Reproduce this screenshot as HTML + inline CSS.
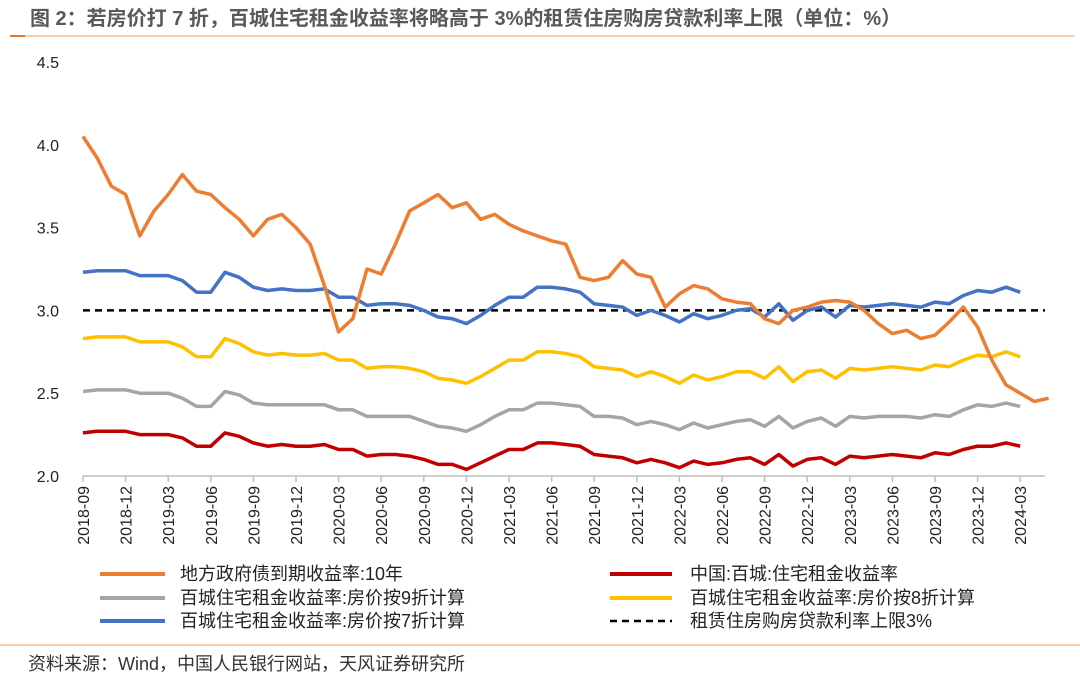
<!DOCTYPE html>
<html><head><meta charset="utf-8">
<style>
body{margin:0;background:#fff;}
svg{display:block;font-family:"Liberation Sans","Noto Sans CJK SC",sans-serif;}
</style></head>
<body>
<svg id="chart" width="1080" height="679" viewBox="0 0 1080 679" xmlns="http://www.w3.org/2000/svg">
<text x="30" y="25" font-size="20" font-weight="bold" fill="#595959">图 2：若房价打 7 折，百城住宅租金收益率将略高于 3%的租赁住房购房贷款利率上限（单位：%）</text>
<line x1="10" y1="36" x2="1075" y2="36" stroke="#f0a060" stroke-width="1"/>
<line x1="10" y1="36" x2="25" y2="36" stroke="#e07828" stroke-width="2"/>
<g id="yaxis"></g>
<g id="xaxis"></g>
<g id="series"></g>
<g font-size="18" fill="#222">
 <g><line x1="100" y1="574" x2="165" y2="574" stroke="#ed7d31" stroke-width="4"/><text x="180" y="580">地方政府债到期收益率:10年</text></g>
 <g><line x1="610" y1="574" x2="672" y2="574" stroke="#c00000" stroke-width="4"/><text x="690" y="580">中国:百城:住宅租金收益率</text></g>
 <g><line x1="100" y1="598" x2="165" y2="598" stroke="#a5a5a5" stroke-width="4"/><text x="180" y="604">百城住宅租金收益率:房价按9折计算</text></g>
 <g><line x1="610" y1="598" x2="672" y2="598" stroke="#ffc000" stroke-width="4"/><text x="690" y="604">百城住宅租金收益率:房价按8折计算</text></g>
 <g><line x1="100" y1="621" x2="165" y2="621" stroke="#4472c4" stroke-width="4"/><text x="180" y="627">百城住宅租金收益率:房价按7折计算</text></g>
 <g><line x1="610" y1="621" x2="672" y2="621" stroke="#000" stroke-width="2.5" stroke-dasharray="7,5"/><text x="690" y="627">租赁住房购房贷款利率上限3%</text></g>
</g>
<line x1="0" y1="645" x2="1080" y2="645" stroke="#f0a060" stroke-width="1"/>
<text x="28" y="670" font-size="18" fill="#333">资料来源：Wind，中国人民银行网站，天风证券研究所</text>
</svg>
<script>
const yTicks=[2.0,2.5,3.0,3.5,4.0,4.5];
const xTickLabels=["2018-09","2018-12","2019-03","2019-06","2019-09","2019-12","2020-03","2020-06","2020-09","2020-12","2021-03","2021-06","2021-09","2021-12","2022-03","2022-06","2022-09","2022-12","2023-03","2023-06","2023-09","2023-12","2024-03"];
const capRate=3.0;
const bondYield=[4.05,3.92,3.75,3.70,3.45,3.60,3.70,3.82,3.72,3.70,3.62,3.55,3.45,3.55,3.58,3.50,3.40,3.15,2.87,2.95,3.25,3.22,3.40,3.60,3.65,3.70,3.62,3.65,3.55,3.58,3.52,3.48,3.45,3.42,3.40,3.20,3.18,3.20,3.30,3.22,3.20,3.02,3.10,3.15,3.13,3.07,3.05,3.04,2.95,2.92,3.00,3.02,3.05,3.06,3.05,3.00,2.92,2.86,2.88,2.83,2.85,2.93,3.02,2.90,2.70,2.55,2.50,2.45,2.47];
const rentYield=[2.26,2.27,2.27,2.27,2.25,2.25,2.25,2.23,2.18,2.18,2.26,2.24,2.20,2.18,2.19,2.18,2.18,2.19,2.16,2.16,2.12,2.13,2.13,2.12,2.10,2.07,2.07,2.04,2.08,2.12,2.16,2.16,2.20,2.20,2.19,2.18,2.13,2.12,2.11,2.08,2.10,2.08,2.05,2.09,2.07,2.08,2.10,2.11,2.07,2.13,2.06,2.10,2.11,2.07,2.12,2.11,2.12,2.13,2.12,2.11,2.14,2.13,2.16,2.18,2.18,2.20,2.18];
const yield90=[2.51,2.52,2.52,2.52,2.50,2.50,2.50,2.47,2.42,2.42,2.51,2.49,2.44,2.43,2.43,2.43,2.43,2.43,2.40,2.40,2.36,2.36,2.36,2.36,2.33,2.30,2.29,2.27,2.31,2.36,2.40,2.40,2.44,2.44,2.43,2.42,2.36,2.36,2.35,2.31,2.33,2.31,2.28,2.32,2.29,2.31,2.33,2.34,2.30,2.36,2.29,2.33,2.35,2.30,2.36,2.35,2.36,2.36,2.36,2.35,2.37,2.36,2.40,2.43,2.42,2.44,2.42];
const yield80=[2.83,2.84,2.84,2.84,2.81,2.81,2.81,2.78,2.72,2.72,2.83,2.80,2.75,2.73,2.74,2.73,2.73,2.74,2.70,2.70,2.65,2.66,2.66,2.65,2.63,2.59,2.58,2.56,2.60,2.65,2.70,2.70,2.75,2.75,2.74,2.72,2.66,2.65,2.64,2.60,2.63,2.60,2.56,2.61,2.58,2.60,2.63,2.63,2.59,2.66,2.57,2.63,2.64,2.59,2.65,2.64,2.65,2.66,2.65,2.64,2.67,2.66,2.70,2.73,2.72,2.75,2.72];
const yield70=[3.23,3.24,3.24,3.24,3.21,3.21,3.21,3.18,3.11,3.11,3.23,3.20,3.14,3.12,3.13,3.12,3.12,3.13,3.08,3.08,3.03,3.04,3.04,3.03,3.00,2.96,2.95,2.92,2.97,3.03,3.08,3.08,3.14,3.14,3.13,3.11,3.04,3.03,3.02,2.97,3.00,2.97,2.93,2.98,2.95,2.97,3.00,3.01,2.96,3.04,2.94,3.00,3.02,2.96,3.03,3.02,3.03,3.04,3.03,3.02,3.05,3.04,3.09,3.12,3.11,3.14,3.11];

const NS="http://www.w3.org/2000/svg";
const x0=83, pxPerMonth=14.2, xEnd=1045;
const yBottom=476, yTop=62, vMin=2.0, vMax=4.5;
function xScale(m){return x0+m*pxPerMonth;}
function yScale(v){return yBottom-(v-vMin)/(vMax-vMin)*(yBottom-yTop);}
function mk(tag,attrs,parent){const e=document.createElementNS(NS,tag);for(const k in attrs)e.setAttribute(k,attrs[k]);parent.appendChild(e);return e;}

const ya=document.getElementById('yaxis');
yTicks.forEach(v=>{
  const t=mk('text',{x:59,y:yScale(v)+6,'text-anchor':'end','font-size':16,fill:'#222'},ya);
  
  
  t.textContent=v.toFixed(1);
});
const xa=document.getElementById('xaxis');
const axisLine=mk('line',{x1:x0,y1:yBottom,x2:xEnd,y2:yBottom,stroke:'#bfbfbf','stroke-width':1.5},xa);


xTickLabels.forEach((lab,i)=>{
  const x=xScale(i*3);
  const tk=mk('line',{x1:x,y1:yBottom,x2:x,y2:yBottom+6,stroke:'#bfbfbf','stroke-width':1.5},xa);
  
  
  const t=mk('text',{transform:`translate(${x+6},486) rotate(-90)`,'text-anchor':'end','font-size':16,fill:'#222'},xa);
  
  
  t.textContent=lab;
});
const sg=document.getElementById('series');
function line(data,color,name,w){
  const pts=data.map((v,i)=>xScale(i).toFixed(1)+','+yScale(v).toFixed(1)).join(' ');
  const p=mk('polyline',{points:pts,fill:'none',stroke:color,'stroke-width':w,'stroke-linejoin':'round'},sg);
  
  
}
const cap=mk('line',{x1:x0,y1:yScale(capRate),x2:xEnd,y2:yScale(capRate),stroke:'#000','stroke-width':2.5,'stroke-dasharray':'7,5'},sg);


line(rentYield,'#c00000','rent-yield-line',3.5);
line(yield90,'#a5a5a5','yield-90pct-line',3.5);
line(yield80,'#ffc000','yield-80pct-line',3.5);
line(yield70,'#4472c4','yield-70pct-line',3.5);
line(bondYield,'#ed7d31','bond-yield-line',3.5);
</script>
</body></html>
